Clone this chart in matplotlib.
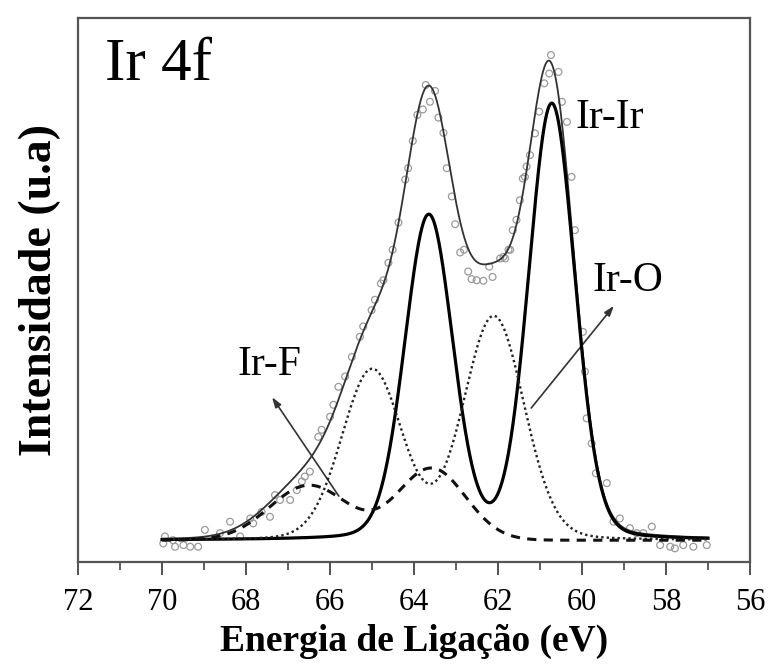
import numpy as np
import matplotlib
matplotlib.use("Agg")
import matplotlib.pyplot as plt

# Measured Ir 4f spectrum (binding energy in eV, intensity in a.u.)
energy_pts = [69.97, 69.93, 69.74, 69.69, 69.49, 69.33, 69.14, 68.98, 68.62, 68.38,
              68.14, 67.90, 67.83, 67.63, 67.43, 67.31, 67.19, 66.95, 66.79, 66.67,
              66.60, 66.48, 66.28, 66.20, 66.00, 65.92, 65.80, 65.64, 65.48, 65.29,
              65.21, 65.01, 64.93, 64.79, 64.73, 64.61, 64.51, 64.37, 64.21, 64.14,
              64.03, 63.92, 63.79, 63.72, 63.62, 63.50, 63.42, 63.30, 63.22, 63.10,
              63.02, 62.90, 62.81, 62.71, 62.63, 62.51, 62.35, 62.21, 62.13, 61.95,
              61.87, 61.83, 61.75, 61.71, 61.65, 61.56, 61.48, 61.41, 61.36, 61.32,
              61.24, 61.12, 61.02, 60.90, 60.78, 60.74, 60.56, 60.48, 60.36, 60.25,
              60.17, 59.98, 59.93, 59.89, 59.77, 59.67, 59.41, 59.25, 59.10, 58.86,
              58.70, 58.54, 58.34, 58.14, 57.90, 57.79, 57.59, 57.35, 57.03]
intensity_pts = [3.4, 4.7, 4.0, 2.8, 3.1, 2.8, 2.8, 5.9, 5.3, 7.4,
                 4.7, 8.0, 7.1, 9.2, 8.3, 12.3, 11.4, 11.4, 13.2, 14.8,
                 15.7, 16.6, 23.0, 24.3, 26.7, 28.9, 32.2, 34.1, 37.7, 41.4,
                 43.3, 46.3, 48.2, 51.2, 51.8, 55.0, 57.4, 62.4, 70.3, 72.4,
                 77.4, 82.2, 83.2, 87.7, 84.6, 86.6, 81.7, 78.9, 72.4, 67.2,
                 62.1, 56.9, 57.4, 53.4, 52.0, 51.8, 51.7, 54.3, 52.4, 55.8,
                 56.1, 55.8, 57.4, 57.4, 61.0, 62.9, 66.5, 70.5, 70.8, 72.7,
                 74.8, 78.8, 82.8, 88.0, 89.8, 93.2, 90.1, 84.6, 80.9, 70.8,
                 61.0, 42.3, 35.0, 26.4, 21.8, 16.3, 14.5, 7.4, 8.0, 6.2,
                 5.3, 5.3, 6.5, 3.1, 2.8, 2.5, 3.1, 2.8, 3.1]

# Fitted components (doublets 4f7/2 and 4f5/2)
background = 4.0
ir_ir_center = [60.72, 63.65]
ir_ir_height = [80.0, 59.5]
ir_ir_fwhm = [1.30, 1.35]
ir_o_center = [62.10, 65.00]
ir_o_height = [41.0, 31.2]
ir_o_fwhm = [1.70, 1.70]
ir_f_center = [63.58, 66.50]
ir_f_height = [13.2, 10.1]
ir_f_fwhm = [1.90, 2.20]

x_ticks = [72, 70, 68, 66, 64, 62, 60, 58, 56]


def gl_peak(e, center, height, fwhm, mix):
    d2 = (e - center) ** 2
    gauss = np.exp(-4 * np.log(2) * d2 / fwhm ** 2)
    lorentz = 1.0 / (1.0 + 4 * d2 / fwhm ** 2)
    return height * ((1 - mix) * gauss + mix * lorentz)


def doublet(e, centers, heights, fwhms, mix):
    return sum(gl_peak(e, c, h, w, mix) for c, h, w in zip(centers, heights, fwhms))


e = np.linspace(70.0, 57.0, 1300)
ir_ir = doublet(e, ir_ir_center, ir_ir_height, ir_ir_fwhm, 0.12)
ir_o = doublet(e, ir_o_center, ir_o_height, ir_o_fwhm, 0.10)
ir_f = doublet(e, ir_f_center, ir_f_height, ir_f_fwhm, 0.0)
envelope = background + ir_ir + ir_o + ir_f

plt.rcParams['font.family'] = ['Liberation Serif', 'DejaVu Serif']

fig = plt.figure(figsize=(7.68, 6.69), dpi=100)
ax = fig.add_axes([0.1016, 0.16, 0.875, 0.813])

ax.scatter(energy_pts, intensity_pts, s=24, facecolors='none',
           edgecolors='#9a9a9a', linewidths=0.9, zorder=2)
ax.plot(e, envelope, color='#333333', lw=1.3, zorder=3)
ax.plot(e, background + ir_ir, color='black', lw=2.3, zorder=4)
ax.plot(e, background + ir_o, color='#222222', lw=1.7,
        linestyle=(0, (1, 1.3)), zorder=4)
ax.plot(e, background + ir_f, color='#111111', lw=2.2,
        linestyle=(0, (3, 2.4)), zorder=4)

ax.set_xlim(72, 56)
ax.set_ylim(0, 100)
ax.set_xticks(x_ticks)
ax.set_xticks(np.arange(56, 73, 1), minor=True)
ax.set_yticks([])
ax.tick_params(axis='x', which='major', direction='out', length=9, width=1.2,
               labelsize=22, colors='#333333', labelcolor='black', pad=10)
ax.tick_params(axis='x', which='minor', direction='out', length=6, width=1.1,
               colors='#333333')
for sp in ax.spines.values():
    sp.set_color('#555555')
    sp.set_linewidth(1.6)

ax.set_xlabel('Energia de Ligação (eV)', fontsize=27, fontweight='bold', labelpad=5)
ax.set_ylabel('Intensidade (u.a)', fontsize=33, fontweight='bold', labelpad=12)

ax.text(0.04, 0.914, 'Ir 4f', transform=ax.transAxes, fontsize=44,
        ha='left', va='center')
ax.text(59.33, 81.6, 'Ir-Ir', fontsize=30, ha='center', va='center')
ax.text(58.9, 51.7, 'Ir-O', fontsize=30, ha='center', va='center')
ax.text(67.45, 36.2, 'Ir-F', fontsize=30, ha='center', va='center')

arrow_style = dict(arrowstyle='-|>,head_length=0.6,head_width=0.2',
                   color='#333333', lw=1.2, shrinkA=0, shrinkB=0)
ax.annotate('', xy=(59.24, 47.1), xytext=(61.21, 28.3), arrowprops=arrow_style)
ax.annotate('', xy=(67.38, 30.3), xytext=(65.79, 12.1), arrowprops=arrow_style)

fig.savefig('out.png', dpi=100)
